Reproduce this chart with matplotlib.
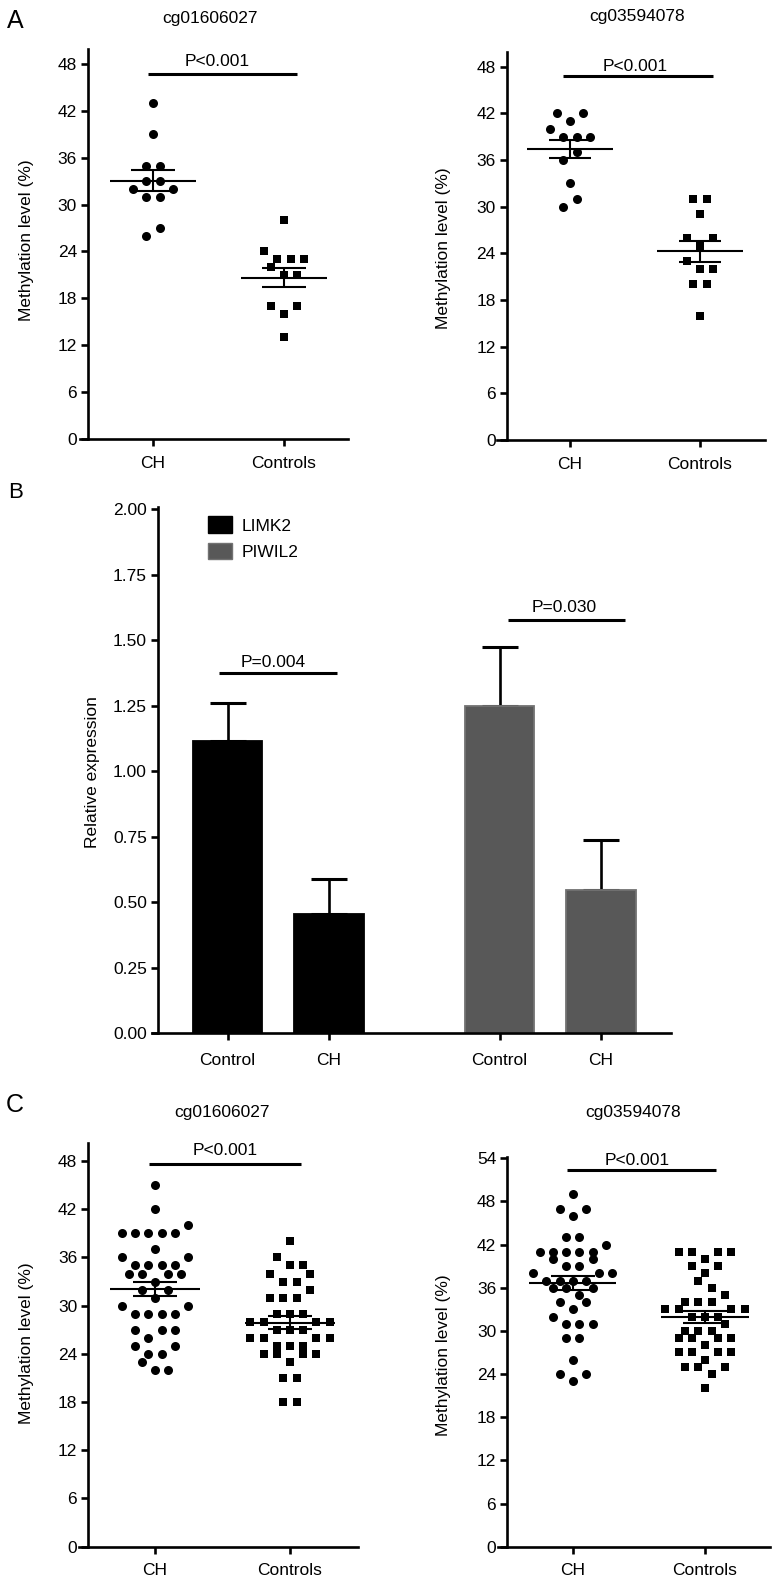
import numpy as np
import matplotlib
matplotlib.use("Agg")
import matplotlib.pyplot as plt
from matplotlib.patches import Patch

plt.rcParams['font.family'] = ['Liberation Sans', 'DejaVu Sans']
FS = 12.5

# ---------------- data ----------------
groups = ['CH', 'Controls']
probe_titles = ['cg01606027', 'cg03594078']

# Panel A (n=12 per group)
a1_ch = [43, 39, 35, 35, 33, 33, 32, 31, 31, 32, 26, 27]
a1_ct = [28, 24, 23, 23, 23, 22, 21, 21, 17, 16, 17, 13]
a2_ch = [42, 41, 42, 40, 39, 39, 39, 36, 37, 33, 30, 31]
a2_ct = [31, 31, 29, 26, 25, 26, 23, 22, 22, 20, 20, 16]

# Panel B
b_labels = ['Control', 'CH', 'Control', 'CH']
b_genes = ['LIMK2', 'PIWIL2']
b_means = [1.115, 0.455, 1.25, 0.547]
b_sem = [0.147, 0.133, 0.226, 0.191]
b_pvals = ['P=0.004', 'P=0.030']

# Panel C
c1_ch = [45, 42, 39, 39, 39, 39, 39, 40, 37, 36, 35, 35, 35, 35, 36,
         34, 34, 33, 34, 34, 32, 31, 32, 30, 29, 29, 29, 29, 30,
         27, 26, 27, 27, 25, 24, 24, 25, 23, 22, 22]
c1_ct = [38, 36, 35, 35, 34, 33, 33, 34, 31, 31, 31, 32, 29, 29, 29,
         28, 28, 27, 27, 27, 28, 28, 26, 26, 25, 25, 25, 26, 26,
         24, 24, 23, 24, 24, 21, 21, 18, 18]
c2_ch = [49, 47, 46, 47, 43, 43, 41, 41, 41, 41, 41, 42, 40, 39, 39, 40,
         38, 37, 37, 37, 37, 38, 38, 36, 36, 35, 36, 34, 33, 34,
         32, 31, 31, 31, 29, 29, 26, 24, 23, 24]
c2_ct = [41, 41, 40, 41, 41, 39, 38, 39, 37, 36, 34, 34, 34, 35,
         33, 33, 32, 32, 32, 33, 33, 30, 30, 30, 31, 29, 29, 28, 29, 29,
         27, 27, 26, 27, 27, 25, 25, 24, 25, 22]
p_text = 'P<0.001'

# ---------------- layout helpers ----------------
W, H, DPI = 779, 1586, 100
fig = plt.figure(figsize=(W / DPI, H / DPI), dpi=DPI)
PX = 72.0 / DPI  # points per pixel
LW = 1.9


def swarm_offsets(values, step):
    v = np.asarray(values, float)
    order = sorted(range(len(v)), key=lambda i: (v[i], i))
    rows, row, start = [], [], None
    for i in order:
        if start is None or v[i] - start > 1.0 + 1e-9:
            if row:
                rows.append(row)
            row, start = [i], v[i]
        else:
            row.append(i)
    if row:
        rows.append(row)
    off = np.zeros(len(v))
    for r in rows:
        r = sorted(r)
        m = len(r)
        for k, i in enumerate(r):
            off[i] = (k - (m - 1) / 2) * step
    return off


def make_axes(xs, xsp, xe, c0, unit_x, y0, unit_y, ytop):
    top_px = y0 - ytop * unit_y
    ax = fig.add_axes([xs / W, 1 - y0 / H, (xe - xs) / W, (y0 - top_px) / H])
    ax.set_xlim((xs - c0) / unit_x, (xe - c0) / unit_x)
    ax.set_ylim(0, ytop)
    for s in ['top', 'right']:
        ax.spines[s].set_visible(False)
    ax.spines['left'].set_position(('data', (xsp - c0) / unit_x))
    for s in ['left', 'bottom']:
        ax.spines[s].set_linewidth(LW)
    ax.tick_params(axis='both', width=LW, length=5, direction='out', labelsize=FS)
    ax.tick_params(axis='y', pad=3)
    ax.tick_params(axis='x', pad=7)
    ax.patch.set_alpha(0)
    return ax


def scatter_panel(geom, ch, ct, yticks, ptxt, pline):
    xs, xsp, xe, c0, c1, y0, unit_y, ytop = geom
    unit_x = c1 - c0
    ax = make_axes(xs, xsp, xe, c0, unit_x, y0, unit_y, ytop)
    step = 13.2 / unit_x
    for k, (vals, mk, ms) in enumerate([(ch, 'o', 6.5), (ct, 's', 5.9)]):
        v = np.asarray(vals, float)
        xo = k + swarm_offsets(v, step)
        ax.plot(xo, v, linestyle='none', marker=mk, markersize=ms,
                color='black', markeredgewidth=0, clip_on=False)
        mean = v.mean()
        sem = v.std(ddof=1) / np.sqrt(len(v))
        ax.hlines(mean, k - 0.33, k + 0.33, color='black', lw=1.5)
        ax.errorbar([k], [mean], yerr=[sem], fmt='none', ecolor='black',
                    elinewidth=1.5, capthick=1.5,
                    capsize=0.165 * unit_x * PX)
    ax.set_xticks([0, 1])
    ax.set_xticklabels(groups)
    ax.set_yticks(yticks)
    # significance bar
    tx, ty = ptxt
    lx0, lx1, ly = pline
    ax.hlines(ly, lx0, lx1, color='black', lw=2.2, clip_on=False)
    ax.text(tx, ty, p_text, ha='center', va='baseline', fontsize=FS)
    return ax


def ftext(x, y, s, **kw):
    fig.text(x / W, 1 - y / H, s, **kw)


# ---------------- Panel A ----------------
scatter_panel((80, 88, 348, 153, 284, 439, 7.8125, 49.9), a1_ch, a1_ct,
              np.arange(0, 49, 6), (0.49, 47.8), (-0.04, 1.10, 46.7))
scatter_panel((497, 506.7, 765, 570, 700, 440, 7.777, 49.9), a2_ch, a2_ct,
              np.arange(0, 49, 6), (0.50, 47.45), (-0.054, 1.10, 46.8))
ftext(210.3, 22.7, probe_titles[0], ha='center', va='baseline', fontsize=FS)
ftext(636.7, 20.7, probe_titles[1], ha='center', va='baseline', fontsize=FS)
ftext(27, 240, 'Methylation level (%)', rotation=90, ha='center', va='center', fontsize=FS)
ftext(443.3, 248.3, 'Methylation level (%)', rotation=90, ha='center', va='center', fontsize=FS)
ftext(15, 20.5, 'A', ha='center', va='center', fontsize=18)

# ---------------- Panel B ----------------
c0b, ub = 227.5, 101.5
axb = make_axes(151.5, 158, 670.6, c0b, ub, 1033.3, 262.0, 2.01)
xpos = np.array([0, 1, 2.68, 3.68])
fills = ['black', 'black', '#585858', '#585858']
edges = ['black', 'black', '#727272', '#727272']
axb.bar(xpos, b_means, width=0.685, color=fills, edgecolor=edges, linewidth=1.3, zorder=2)
axb.errorbar(xpos, b_means, yerr=[np.zeros(4), b_sem], fmt='none', ecolor='black',
             elinewidth=1.9, capthick=2.2, capsize=13, zorder=1)
axb.set_xticks(xpos)
axb.set_xticklabels(b_labels)
axb.tick_params(axis='x', pad=9)
axb.set_yticks(np.arange(0, 2.01, 0.25))
axb.yaxis.set_major_formatter(matplotlib.ticker.FormatStrFormatter('%.2f'))
axb.hlines(1.374, -0.088, 1.077, color='black', lw=2.2)
axb.text(0.455, 1.399, b_pvals[0], ha='center', va='baseline', fontsize=FS)
axb.hlines(1.577, 2.761, 3.916, color='black', lw=2.2)
axb.text(3.321, 1.609, b_pvals[1], ha='center', va='baseline', fontsize=FS)
handles = [Patch(facecolor='black', edgecolor='black'),
           Patch(facecolor='#585858', edgecolor='#727272')]
axb.legend(handles, b_genes, loc='upper left', frameon=False, fontsize=FS,
           bbox_to_anchor=(207.6 / W, 1 - 516.5 / H), bbox_transform=fig.transFigure,
           borderpad=0, borderaxespad=0, handlelength=1.43, handleheight=1.09,
           handletextpad=0.55, labelspacing=0.52)
ftext(92, 771.7, 'Relative expression', rotation=90, ha='center', va='center', fontsize=FS)
ftext(16, 493, 'B', ha='center', va='center', fontsize=16)

# ---------------- Panel C ----------------
scatter_panel((79.3, 88.3, 358.3, 155, 290, 1546.7, 8.035, 50.2), c1_ch, c1_ct,
              np.arange(0, 49, 6), (0.52, 48.8), (-0.042, 1.08, 47.6))
scatter_panel((498.3, 507.3, 770, 572.7, 705, 1546.7, 7.193, 54.2), c2_ch, c2_ct,
              np.arange(0, 55, 6), (0.49, 53.07), (-0.045, 1.083, 52.4))
ftext(221.7, 1116.7, probe_titles[0], ha='center', va='baseline', fontsize=FS)
ftext(633, 1116.7, probe_titles[1], ha='center', va='baseline', fontsize=FS)
ftext(26.7, 1343.3, 'Methylation level (%)', rotation=90, ha='center', va='center', fontsize=FS)
ftext(443.3, 1355, 'Methylation level (%)', rotation=90, ha='center', va='center', fontsize=FS)
ftext(15, 1105, 'C', ha='center', va='center', fontsize=18)

fig.savefig('out.png', dpi=DPI, facecolor='white')
